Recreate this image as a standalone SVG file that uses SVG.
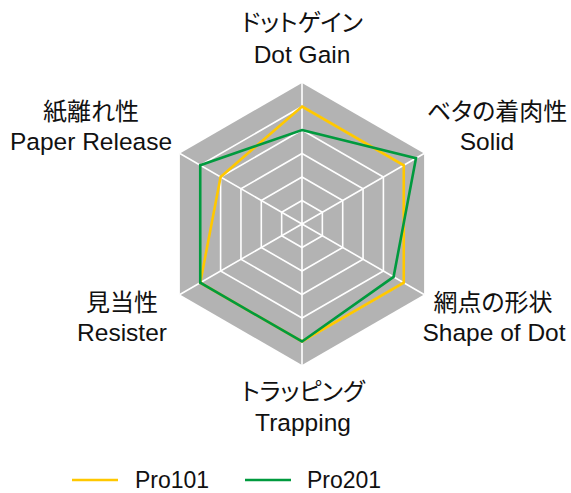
<svg xmlns="http://www.w3.org/2000/svg" width="571" height="493" viewBox="0 0 571 493">
<style>
.jp{font-family:"Noto Sans CJK JP",sans-serif;font-size:24px;fill:#111;text-anchor:middle;font-feature-settings:"palt"}
.en{font-family:"Liberation Sans",Arial,sans-serif;font-size:24.5px;fill:#111;text-anchor:middle}
.leg{font-family:"Liberation Sans",Arial,sans-serif;font-size:23px;fill:#111}
.grid{fill:none;stroke:#fff;stroke-width:1.6}
.s1{fill:none;stroke:#ffc800;stroke-width:2.6;stroke-linejoin:miter}
.s2{fill:none;stroke:#009a3e;stroke-width:2.6;stroke-linejoin:miter}
</style>
<rect width="571" height="493" fill="#fff"/>
<g id="chart" transform="translate(302,224)">
<polygon points="0,-141 122.1,-70.5 122.1,70.5 0,141 -122.1,70.5 -122.1,-70.5" fill="#b3b3b3"/>
<g class="grid">
<polygon points="0,-23.5 20.35,-11.75 20.35,11.75 0,23.5 -20.35,11.75 -20.35,-11.75"/>
<polygon points="0,-47 40.7,-23.5 40.7,23.5 0,47 -40.7,23.5 -40.7,-23.5"/>
<polygon points="0,-70.5 61.05,-35.25 61.05,35.25 0,70.5 -61.05,35.25 -61.05,-35.25"/>
<polygon points="0,-94 81.4,-47 81.4,47 0,94 -81.4,47 -81.4,-47"/>
<polygon points="0,-117.5 101.76,-58.75 101.76,58.75 0,117.5 -101.76,58.75 -101.76,-58.75"/>
<path d="M0,0L0,-141M0,0L122.1,-70.5M0,0L122.1,70.5M0,0L0,141M0,0L-122.1,70.5M0,0L-122.1,-70.5"/>
</g>
</g>
<g id="series">
<polygon id="pro101" class="s1" transform="translate(302,224)" points="0,-117.5 101.76,-58.75 101.76,58.75 0,117.5 -101.76,58.75 -81.4,-47"/>
<polygon id="pro201" class="s2" transform="translate(302,224)" points="0,-94 113.97,-65.8 91.58,52.88 0,117.5 -101.76,58.75 -101.76,-58.75"/>
</g>
<g id="label-dotgain"><text class="jp" x="302" y="31">ドットゲイン</text><text class="en" x="302" y="63">Dot Gain</text></g>
<g id="label-solid"><text class="jp" x="497" y="120">ベタの着肉性</text><text class="en" x="487" y="150">Solid</text></g>
<g id="label-shape"><text class="jp" x="493" y="311">網点の形状</text><text class="en" x="494" y="341">Shape of Dot</text></g>
<g id="label-trapping"><text class="jp" x="303" y="400">トラッピング</text><text class="en" x="303" y="431">Trapping</text></g>
<g id="label-resister"><text class="jp" x="122" y="311">見当性</text><text class="en" x="122" y="341">Resister</text></g>
<g id="label-paper"><text class="jp" x="91" y="120">紙離れ性</text><text class="en" x="91" y="150">Paper Release</text></g>
<g id="legend">
<line x1="72" y1="480" x2="118" y2="480" stroke="#ffc800" stroke-width="2.6"/>
<text class="leg" x="135" y="488">Pro101</text>
<line x1="245" y1="480" x2="291" y2="480" stroke="#009a3e" stroke-width="2.6"/>
<text class="leg" x="307" y="488">Pro201</text>
</g>
</svg>
